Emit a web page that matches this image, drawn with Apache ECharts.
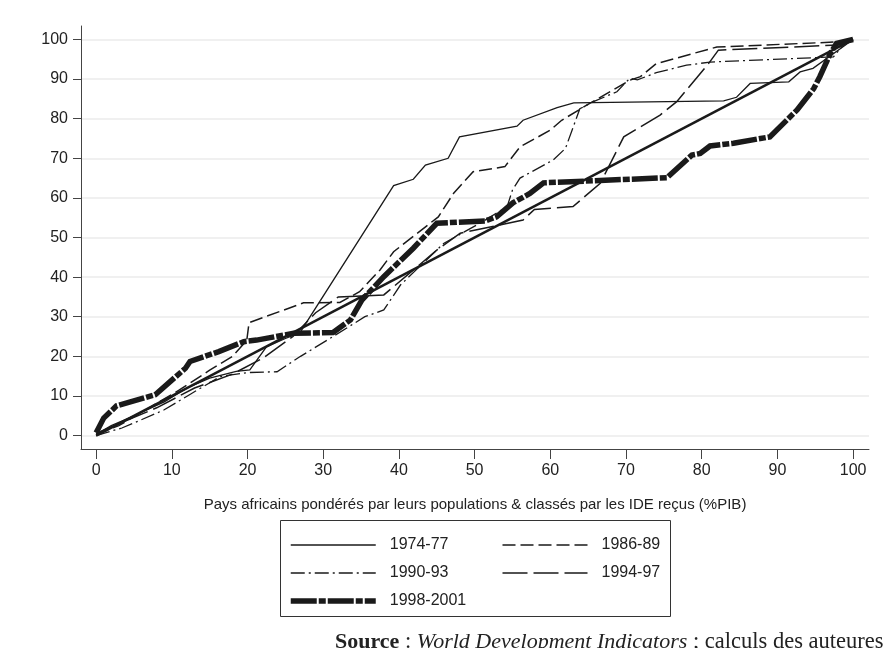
<!DOCTYPE html>
<html>
<head>
<meta charset="utf-8">
<script src="https://cdn.jsdelivr.net/npm/echarts@6/dist/echarts.min.js"></script>
<style>
  html, body { margin: 0; padding: 0; background: #fff; }
  #chart { width: 891px; height: 648px; }
</style>
</head>
<body>
<div id="chart"></div>
<script>
// tick labels
const xTicks = [0, 10, 20, 30, 40, 50, 60, 70, 80, 90, 100];
const yTicks = [0, 10, 20, 30, 40, 50, 60, 70, 80, 90, 100];

// series names (legend order)
const periods = ['1974-77', '1986-89', '1990-93', '1994-97', '1998-2001'];

// cumulative FDI share (%) vs cumulative population share (%)
const p7477 = [[0,0.3],[2,2.5],[5,5],[9,8.5],[12,12],[15,14.5],[18.5,16.2],[20.3,16.6],[22.5,22.4],[25,24.5],[26.9,25.9],
  [39.3,63.1],[41.9,64.7],[43.5,68.3],[46.5,70],[48,75.4],[55.6,78.1],[56.4,79.6],[60.9,82.8],[63.1,84],
  [82.9,84.5],[84.6,85.4],[86.4,88.9],[91.5,89.3],[93,91.8],[94.7,92.7],[100,100]];
const p8689 = [[0,0.3],[3,2.5],[7,7],[11,11.5],[15,16.5],[18,20],[19.9,24],[20.2,28.5],[27.4,33.5],[32.2,33.6],
  [34.8,36.3],[37.5,41.8],[39.3,46.4],[42.1,50.6],[45.2,55.2],[47.2,61.1],[49.8,66.6],[54,67.9],[56,72.9],
  [60,77.1],[61.5,79.6],[64.8,83.4],[70.5,89.7],[71.9,90.6],[74,93.9],[82,98.1],[98.3,99.4],[100,100]];
const p9093 = [[0,0],[3.4,1.9],[5.4,3.5],[9,6.5],[12.5,10.5],[16.4,14.9],[20,15.9],[23.9,16.1],[27,20],[31.3,25],
  [35.5,30],[38,31.7],[40.2,38],[45.9,48.5],[50.7,53.6],[54.3,57.8],[55,62],[56,65],[60.4,69.6],[62,72.5],
  [63.9,82.5],[65.7,84.3],[68.8,86.8],[70.5,90.2],[71.5,89.8],[74,91.6],[78,93.5],[81.1,94.3],[97.4,95.6],
  [98.7,98.6],[100,100]];
const p9497 = [[0,0.5],[3,3],[8,7],[13,12],[18,15.5],[22,19.5],[26,25],[29,31],[32,35],[38,35.5],[45,46.8],
  [48.1,51.1],[56.4,54.4],[57.9,57.1],[63,57.8],[66.6,63.7],[69.7,75.4],[74.5,80.9],[76.7,84.3],[80.9,93.9],
  [82.2,97.3],[98,98.6],[100,100]];
const p9801 = [[0,0.7],[1,4.4],[2.7,7.5],[7.8,10.3],[11.8,17],[12.4,18.7],[16.2,21.2],[19.5,23.7],[21.2,24.1],
  [26.1,25.8],[31.3,26],[33.6,29.2],[35.1,34.2],[38,40.1],[41.9,47.3],[45,53.6],[51.4,54.2],[52.9,55.2],
  [55.1,58.8],[57.3,61.1],[59.1,63.8],[75.4,65.1],[78.7,70.8],[79.8,71.2],[81.1,73.1],[84.2,73.8],[89,75.4],
  [92.6,82.2],[94.8,87.6],[95.6,90.6],[97,96.5],[97.8,99],[100,100]];
const equality = [[0,0],[100,100]];

const ink = '#1a1a1a';
const sans = '"Liberation Sans", Arial, sans-serif';
const serif = '"Liberation Serif", "DejaVu Serif", serif';

function line(name, data, width, type) {
  return {
    name: name,
    type: 'line',
    data: data,
    symbol: 'none',
    silent: true,
    itemStyle: { color: ink },
    lineStyle: { color: ink, width: width, type: type, cap: 'butt', join: 'miter' }
  };
}

const chart = echarts.init(document.getElementById('chart'), null, { renderer: 'canvas' });

const option = {
  animation: false,
  backgroundColor: '#fff',
  title: {
    left: 330,
    top: 626,
    text: '{b|Source} : {i|World Development Indicators} ; calculs des auteures',
    textStyle: {
      fontFamily: serif,
      fontSize: 22.5,
      fontWeight: 'normal',
      color: '#222',
      rich: {
        b: { fontFamily: serif, fontSize: 22, fontWeight: 'bold', color: '#222' },
        i: { fontFamily: serif, fontSize: 22, fontStyle: 'italic', color: '#222' }
      }
    }
  },
  grid: { left: 81, right: 22, top: 26, bottom: 199 },
  xAxis: {
    type: 'value',
    min: -2,
    max: 102.1,
    name: 'Pays africains pondérés par leurs populations & classés par les IDE reçus (%PIB)',
    nameLocation: 'middle',
    nameGap: 48,
    nameTextStyle: { fontFamily: sans, fontSize: 15, color: '#222' },
    axisLine: { show: true, onZero: false, lineStyle: { color: '#444', width: 1 } },
    axisTick: { show: true, length: 10, customValues: xTicks, lineStyle: { color: '#444' } },
    axisLabel: { customValues: xTicks, margin: 14, fontFamily: sans, fontSize: 16, color: '#222' },
    splitLine: { show: false }
  },
  yAxis: {
    type: 'value',
    min: -3.4,
    max: 103.4,
    axisLine: { show: true, onZero: false, lineStyle: { color: '#444', width: 1 } },
    axisTick: { show: true, length: 8, customValues: yTicks, lineStyle: { color: '#444' } },
    axisLabel: { customValues: yTicks, margin: 13, fontFamily: sans, fontSize: 16, color: '#222' },
    splitLine: { show: true, lineStyle: { color: '#ebebeb', width: 1.5 } }
  },
  legend: {
    data: periods,
    left: 288,
    top: 537,
    width: 420,
    orient: 'horizontal',
    itemWidth: 85,
    itemHeight: 14,
    itemGap: 12,
    padding: 0,
    selectedMode: false,
    itemStyle: { opacity: 0 },
    lineStyle: { width: 'inherit' },
    textStyle: {
      fontFamily: sans, fontSize: 16, color: '#222',
      width: 100, height: 15.5, lineHeight: 15.5,
      padding: [0, 0, 0, 9]
    }
  },
  graphic: [{
    type: 'rect',
    shape: { x: 280.5, y: 520.5, width: 390, height: 96 },
    style: { fill: 'none', stroke: '#333', lineWidth: 1 },
    silent: true
  }],
  series: [
    line('1974-77', p7477, 1.3, 'solid'),
    line('1986-89', p8689, 1.5, [13, 5]),
    line('1990-93', p9093, 1.3, [14, 4, 2, 4]),
    line('1994-97', p9497, 1.5, [25, 6]),
    line('equality', equality, 2.5, 'solid'),
    line('1998-2001', p9801, 5.5, [26, 2, 7, 2])
  ]
};

chart.setOption(option);
</script>
</body>
</html>
